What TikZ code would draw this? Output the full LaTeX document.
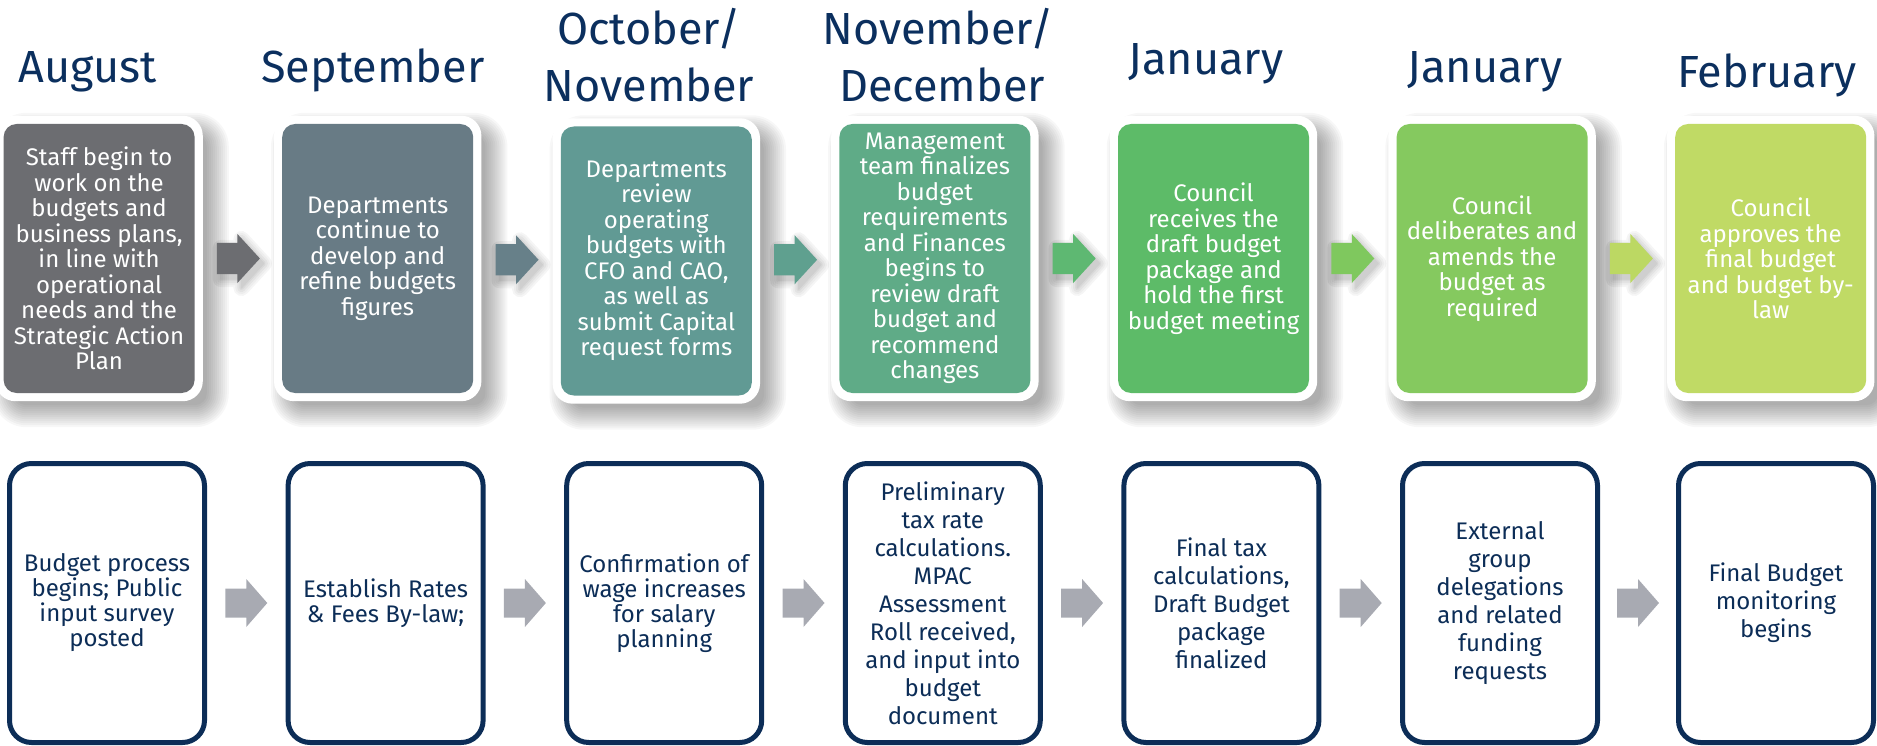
\documentclass[tikz,border=0pt]{standalone}
\usepackage{fontspec}
\setmainfont{Fira Sans}
\usetikzlibrary{calc,backgrounds}

\definecolor{navy}{HTML}{0C2D57}
\definecolor{headblue}{HTML}{0B2F5E}
\definecolor{stepA}{HTML}{6C6D71}
\definecolor{stepB}{HTML}{687B85}
\definecolor{stepC}{HTML}{619A94}
\definecolor{stepD}{HTML}{5FAB87}
\definecolor{stepE}{HTML}{5DBB68}
\definecolor{stepF}{HTML}{85C95F}
\definecolor{stepG}{HTML}{C0DA65}
\definecolor{arrA}{HTML}{6C6D71}
\definecolor{arrB}{HTML}{678089}
\definecolor{arrC}{HTML}{5FA08F}
\definecolor{arrD}{HTML}{5EB872}
\definecolor{arrE}{HTML}{7FC85E}
\definecolor{arrF}{HTML}{BCD863}
\definecolor{arrgray}{HTML}{A8AAB2}

\tikzset{
  topbox/.style={rounded corners=13pt, minimum width=191pt, minimum height=269pt,
    inner sep=0pt, align=center, text=white, font=\fontsize{24}{25.5}\selectfont},
  botbox/.style={draw=navy, line width=5pt, fill=white, rounded corners=22pt,
    minimum width=195pt, minimum height=279pt, inner sep=0pt, align=center,
    text=navy, font=\fontsize{24}{25}\selectfont},
  widelead/.style={font=\fontsize{24}{28}\selectfont},
  heading/.style={anchor=base, inner sep=0pt, text=headblue, font=\fontsize{45}{54}\selectfont},
  % block arrow: shaft and triangular head, centred on the pic origin
  pics/toparrow/.style={code={
    \fill[#1] (-21.5,-15.5) -- (-1,-15.5) -- (-1,-24.5) -- (21.5,0) -- (-1,24.5) -- (-1,15.5) -- (-21.5,15.5) -- cycle;}},
  pics/botarrow/.style={code={
    \fill[#1] (-21,-14.5) -- (0,-14.5) -- (0,-24) -- (21,0) -- (0,24) -- (0,14.5) -- (-21,14.5) -- cycle;}},
  % soft shadow under a top arrow, built from stacked outlines
  pics/arrowglow/.style={code={
    \foreach \w/\c in {16/4,12/7,8/11,4/15,1/19}{
      \filldraw[black!\c, line width=\w pt, line join=round]
        (-17.5,-10.5) -- (3,-10.5) -- (3,-19.5) -- (25.5,5) -- (3,29.5) -- (3,20.5) -- (-17.5,20.5) -- cycle;}}}
}

\begin{document}
\begin{tikzpicture}[x=1pt,y=-1pt]
\useasboundingbox (0,0) rectangle (1877,746);

% ---------- month headings ----------
\node[heading] (h1)  at (88,83)    {August};
\node[heading] (h2)  at (373,83)   {September};
\node[heading] (h3a) at (649,45)   {October/};
\node[heading] (h3b) at (649,102)  {November};
\node[heading] (h4a) at (938,45)   {November/};
\node[heading] (h4b) at (942,102)  {December};
\node[heading] (h5)  at (1206,75)  {January};
\node[heading] (h6)  at (1485,83)  {January};
\node[heading] (h7)  at (1767,88)  {February};

% ---------- upper row: coloured stages ----------
\node[topbox, fill=stepA] (t1) at (99.1,258.5)  {Staff begin to\\work on the\\budgets and\\business plans,\\in line with\\operational\\needs and the\\Strategic Action\\Plan};
\node[topbox, fill=stepB] (t2) at (377.7,258.5) {Departments\\continue to\\develop and\\refine budgets\\figures};
\node[topbox, fill=stepC] (t3) at (656.3,261)   {Departments\\review\\operating\\budgets with\\CFO and CAO,\\as well as\\submit Capital\\request forms};
\node[topbox, fill=stepD] (t4) at (934.9,258.5) {Management\\team finalizes\\budget\\requirements\\and Finances\\begins to\\review draft\\budget and\\recommend\\changes};
\node[topbox, fill=stepE] (t5) at (1213.5,258.5){Council\\receives the\\draft budget\\package and\\hold the first\\budget meeting};
\node[topbox, fill=stepF] (t6) at (1492.1,258.5){Council\\deliberates and\\amends the\\budget as\\required};
\node[topbox, fill=stepG] (t7) at (1770.7,258.5){Council\\approves the\\final budget\\and budget by-\\law};

% ---------- lower row: outlined milestones ----------
\node[botbox] (b1) at (107,603)    {Budget process\\begins; Public\\input survey\\posted};
\node[botbox] (b2) at (385.6,603)  {Establish Rates\\\& Fees By-law;};
\node[botbox] (b3) at (664.2,603)  {Confirmation of\\wage increases\\for salary\\planning};
\node[botbox, widelead] (b4) at (942.8,603)  {Preliminary\\tax rate\\calculations.\\MPAC\\Assessment\\Roll received,\\and input into\\budget\\document};
\node[botbox, widelead] (b5) at (1221.4,603) {Final tax\\calculations,\\Draft Budget\\package\\finalized};
\node[botbox, widelead] (b6) at (1500,603)   {External\\group\\delegations\\and related\\funding\\requests};
\node[botbox, widelead] (b7) at (1776,603)   {Final Budget\\monitoring\\begins};

% ---------- shadows and white frames behind the upper boxes ----------
\begin{scope}[on background layer]
  \foreach \a/\b in {t1/t2,t2/t3,t3/t4,t4/t5,t5/t6,t6/t7}
    \pic at ($(\a.east)!0.5!(\b.west)$) {arrowglow};
  \foreach \i in {1,...,7}{
    \foreach \e [evaluate=\e as \p using 3-\e, evaluate=\e as \q using 20+\e,
                 evaluate=\e as \r using 20+\e] in {14,12,...,-8}{
      \fill[black, opacity=0.032, rounded corners=\r pt]
        ($(t\i.north west)+(\p,\p)$) rectangle ($(t\i.south east)+(\q,\q)$);
    }
    \fill[white, rounded corners=20pt]
      ($(t\i.north west)+(-8,-8)$) rectangle ($(t\i.south east)+(8,8)$);
  }
\end{scope}

% ---------- arrows between stages ----------
\pic at ($(t1.east)!0.5!(t2.west)$) {toparrow=arrA};
\pic at ($(t2.east)!0.5!(t3.west)$) {toparrow=arrB};
\pic at ($(t3.east)!0.5!(t4.west)$) {toparrow=arrC};
\pic at ($(t4.east)!0.5!(t5.west)$) {toparrow=arrD};
\pic at ($(t5.east)!0.5!(t6.west)$) {toparrow=arrE};
\pic at ($(t6.east)!0.5!(t7.west)$) {toparrow=arrF};

\foreach \a/\b in {b1/b2,b2/b3,b3/b4,b4/b5,b5/b6,b6/b7}
  \pic at ($(\a.east)!0.5!(\b.west)$) {botarrow=arrgray};
\end{tikzpicture}
\end{document}
